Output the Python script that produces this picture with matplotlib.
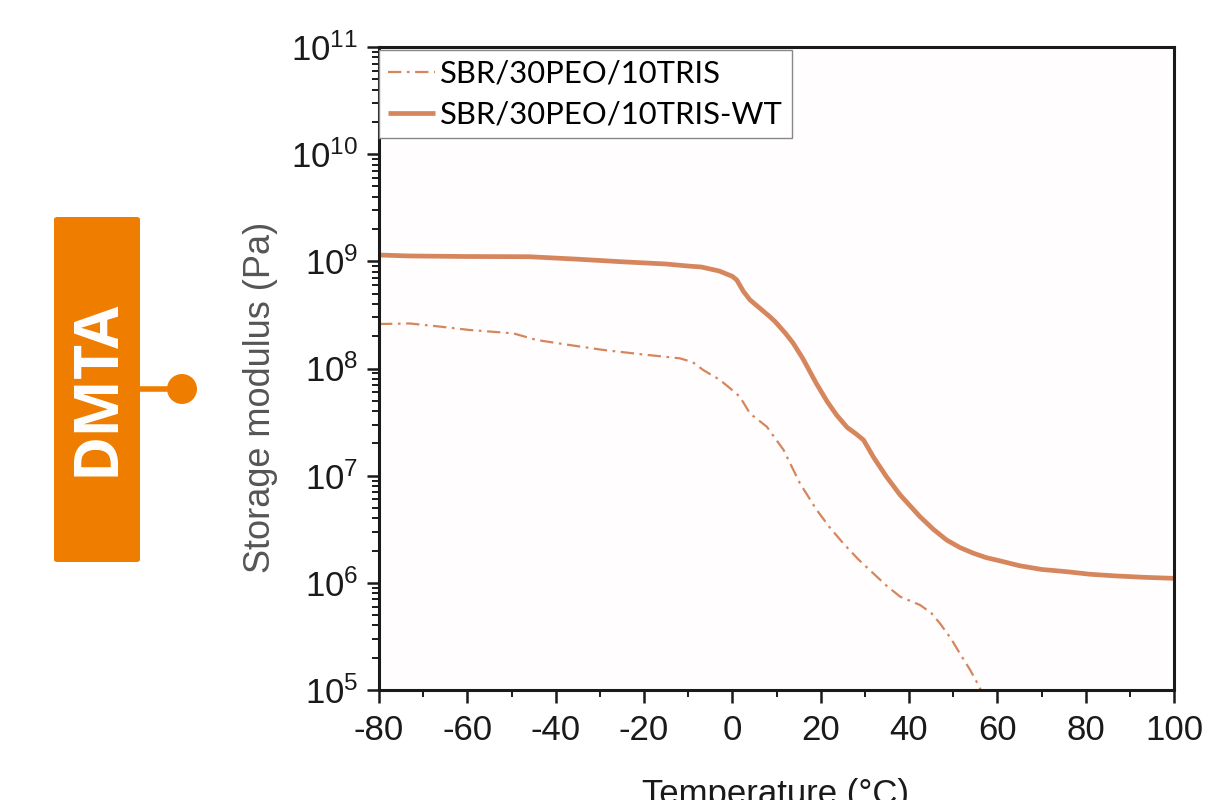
import numpy as np
import matplotlib
matplotlib.use("Agg")
import matplotlib.pyplot as plt
from matplotlib.patches import FancyBboxPatch, Circle
from matplotlib.lines import Line2D
from matplotlib.ticker import LogLocator, MultipleLocator, LogFormatterMathtext

# ---------------- data ----------------
temp_wt = [-80, -73, -60, -46, -35, -25, -15, -10, -7, -3, 0, 1, 2.5, 4, 6.3, 8.5, 9.7,
           12, 13.8, 16, 19, 21.5, 23.6, 26, 28, 29.7, 32, 34.9, 38, 42.5, 45.5, 48.5,
           51.5, 54.6, 57.5, 60.6, 65, 70, 75.7, 81, 87, 93, 99.8]
log_mod_wt = [9.059, 9.05, 9.045, 9.043, 9.02, 8.996, 8.975, 8.956, 8.947, 8.91, 8.86,
              8.826, 8.72, 8.64, 8.56, 8.483, 8.437, 8.33, 8.235, 8.09, 7.862, 7.69,
              7.566, 7.45, 7.39, 7.333, 7.17, 6.99, 6.82, 6.617, 6.50, 6.40, 6.33,
              6.276, 6.235, 6.205, 6.16, 6.125, 6.104, 6.08, 6.064, 6.052, 6.042]

temp_ref = [-80, -73, -66, -59.4, -49.6, -44.3, -37, -29.2, -20, -11.9, -9, -6.6, -2.8,
            -0.5, 1.7, 4.0, 7.8, 11.6, 15.3, 19.1, 22, 25.1, 28.5, 31.9, 35, 38.0, 42.5,
            45, 47.0, 49.5, 51.5, 53.8, 55.7, 56.5]
log_mod_ref = [8.415, 8.42, 8.39, 8.359, 8.328, 8.266, 8.22, 8.173, 8.13, 8.095, 8.06,
               7.986, 7.893, 7.815, 7.737, 7.58, 7.457, 7.24, 6.929, 6.68, 6.52, 6.369,
               6.22, 6.089, 5.97, 5.871, 5.793, 5.72, 5.622, 5.48, 5.342, 5.19, 5.047, 4.98]

series_labels = ["SBR/30PEO/10TRIS", "SBR/30PEO/10TRIS-WT"]
x_ticks = [-80, -60, -40, -20, 0, 20, 40, 60, 80, 100]

# ---------------- figure ----------------
W, H, DPI = 1215, 800, 100
plt.rcParams["axes.unicode_minus"] = False
plt.rcParams["mathtext.fontset"] = "custom"
plt.rcParams["mathtext.rm"] = "Liberation Sans"
plt.rcParams["mathtext.it"] = "Liberation Sans"
plt.rcParams["mathtext.bf"] = "Liberation Sans:bold"
fig = plt.figure(figsize=(W / DPI, H / DPI), dpi=DPI, facecolor="white")

def fx(px):
    return px / W

def fy(py):
    return 1 - py / H

ax = fig.add_axes([fx(379), fy(690), fx(1174) - fx(379), fy(47) - fy(690)])
ax.set_facecolor("#fffdfd")

line_color = "#d6865d"
ax.plot(temp_ref, np.power(10.0, log_mod_ref), color=line_color, lw=1.6,
        dashes=(6, 2.5, 1.2, 2.5), label=series_labels[0])
ax.plot(temp_wt, np.power(10.0, log_mod_wt), color=line_color, lw=3.4,
        label=series_labels[1], solid_capstyle="butt")

ax.set_yscale("log")
ax.set_xlim(-80, 100)
ax.set_ylim(1e5, 1e11)
ax.set_xticks(x_ticks)
ax.xaxis.set_minor_locator(MultipleLocator(10))
ax.yaxis.set_major_locator(LogLocator(base=10, numticks=10))
ax.yaxis.set_minor_locator(LogLocator(base=10, subs=np.arange(2, 10), numticks=20))
ax.yaxis.set_major_formatter(LogFormatterMathtext())

for s in ax.spines.values():
    s.set_linewidth(2.2)
    s.set_color("#1a1a1a")

ax.tick_params(axis="both", which="major", labelsize=25, labelcolor="#1a1a1a",
               length=9, width=1.8, color="#1a1a1a")
ax.tick_params(axis="both", which="minor", length=5, width=1.4, color="#1a1a1a")
ax.tick_params(axis="x", which="major", pad=8)
ax.tick_params(axis="y", which="major", pad=6)
# tiny marks on the right spine
ax.yaxis.set_ticks_position("both")
for t in ax.yaxis.get_major_ticks() + ax.yaxis.get_minor_ticks():
    t.tick2line.set_markersize(1.6)
    t.tick2line.set_markeredgewidth(1.4)
for lab in ax.get_xticklabels() + ax.get_yticklabels():
    lab.set_family("Liberation Sans")

ax.set_ylabel("Storage modulus (Pa)", fontsize=26, color="#555555",
              family="Liberation Sans")
ax.yaxis.set_label_coords((278 - 379) / (1174 - 379), (690 - 397) / (690 - 47))

leg = ax.legend(loc="upper left", bbox_to_anchor=(0.0, 0.995), borderaxespad=0,
                frameon=True, fancybox=False, handlelength=1.5, handletextpad=0.18,
                borderpad=0.3, labelspacing=0.42,
                prop={"family": "Lato", "size": 22.3})
leg.get_frame().set_edgecolor("#888888")
leg.get_frame().set_linewidth(1.0)
leg.get_frame().set_facecolor("white")
leg.get_frame().set_alpha(1)

# x label, cut off at the bottom edge as in the reference
fig.text(fx(775), fy(778), "Temperature (°C)", fontsize=25, ha="center", va="top",
         family="Liberation Sans", color="#1a1a1a")

# DMTA tag
orange = "#ef7d00"
box = FancyBboxPatch((fx(54), fy(562)), fx(140) - fx(54), fy(217) - fy(562),
                     boxstyle="round,pad=0,rounding_size=0.003",
                     transform=fig.transFigure, facecolor=orange, edgecolor="none")
fig.patches.append(box)
fig.text(fx(98), fy(388), "DMTA", rotation=90, ha="center", va="center",
         fontsize=44, fontweight="bold", color="white", family="Open Sans")
fig.lines.append(Line2D([fx(140), fx(172)], [fy(389), fy(389)], transform=fig.transFigure,
                        color=orange, lw=4))
circ = Circle((182, H - 389), 15, transform=None, facecolor=orange, edgecolor="none")
fig.patches.append(circ)

fig.savefig("out.png", dpi=DPI, facecolor="white")
